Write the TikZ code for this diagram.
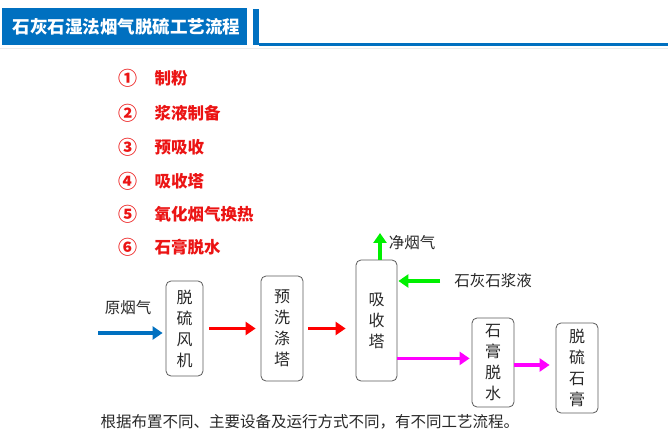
\documentclass[tikz,border=0pt]{standalone}
\usepackage{fontspec}
\setmainfont{Noto Sans CJK SC}
\usetikzlibrary{arrows.meta,calc}
\definecolor{tblue}{RGB}{0,112,192}
\definecolor{lred}{RGB}{235,20,20}
\definecolor{agreen}{RGB}{0,240,0}
\definecolor{amag}{RGB}{255,0,255}
\definecolor{bord}{RGB}{90,90,90}
\definecolor{txt}{RGB}{40,40,40}
\tikzset{
  stage/.style={draw=bord,line width=0.8pt,rounded corners=5pt,inner sep=0pt,align=center,
    font=\fontsize{16}{21}\selectfont,text=txt},
  flow/.style={line width=3.6pt,-{Triangle[length=10pt,width=13pt]}},
  listitem/.style={anchor=west,text=lred,font=\fontsize{16.5}{18}\selectfont\bfseries},
  listnum/.style={text=lred,font=\fontsize{19}{20}\selectfont\bfseries},
  lbl/.style={text=txt,font=\fontsize{15.5}{18}\selectfont}
}
\begin{document}
\begin{tikzpicture}[x=1pt,y=-1pt]
\useasboundingbox (0,0) rectangle (668,443);
% title
\fill[tblue] (2,8) rectangle (247,45);
\fill[tblue] (253,9) rectangle (259,45);
\fill[tblue] (259,43.5) rectangle (668,46);
\draw[gray!15,line width=1pt] (0,48.5) -- (668,48.5);
\node[text=white,font=\fontsize{17.5}{20}\selectfont\bfseries,anchor=west] (title) at (9,27) {石灰石湿法烟气脱硫工艺流程};
% list
\node[listnum] (n1) at (127.5,78) {①};
\node[listitem] (t1) at (151,78) {制粉};
\node[listnum] (n2) at (127.5,113) {②};
\node[listitem] (t2) at (151,113) {浆液制备};
\node[listnum] (n3) at (127.5,147) {③};
\node[listitem] (t3) at (151,147) {预吸收};
\node[listnum] (n4) at (127.5,181) {④};
\node[listitem] (t4) at (151,181) {吸收塔};
\node[listnum] (n5) at (127.5,214) {⑤};
\node[listitem] (t5) at (151,214) {氧化烟气换热};
\node[listnum] (n6) at (127.5,247) {⑥};
\node[listitem] (t6) at (151,247) {石膏脱水};
% boxes
\node[stage,minimum width=37pt,minimum height=95pt] (b1) at (184.5,328.5) {脱\\硫\\风\\机};
\node[stage,minimum width=42pt,minimum height=105pt] (b2) at (282,328.5) {预\\洗\\涤\\塔};
\node[stage,minimum width=41pt,minimum height=121pt] (b3) at (376.5,320.5) {吸\\收\\塔};
\node[stage,minimum width=42pt,minimum height=89pt] (b4) at (493,362.5) {石\\膏\\脱\\水};
\node[stage,minimum width=42pt,minimum height=90pt] (b5) at (577,368) {脱\\硫\\石\\膏};
% labels
\node[lbl] (raw) at (128,308) {原烟气};
\node[lbl] (clean) at (412,243) {净烟气};
\node[lbl] (slurry) at (493,281) {石灰石浆液};
\node[lbl,anchor=west] (note) at (97,422) {根据布置不同、主要设备及运行方式不同，有不同工艺流程。};
% connectors
\coordinate (rawstart) at (98,333);
\draw[flow,tblue,shorten >=3pt] (rawstart) -- (rawstart -| b1.west);
\draw[flow,red,shorten <=6pt,shorten >=5pt] (b1.east) -- (b1.east -| b2.west);
\draw[flow,red,shorten <=5pt,shorten >=10pt] (b2.east) -- (b2.east -| b3.west);
\coordinate (cleantop) at (380,233);
\draw[flow,agreen] ([xshift=3.5pt]b3.north) -- (cleantop);
\coordinate (slurrystart) at (440,281);
\draw[flow,agreen,shorten >=1pt] (slurrystart) -- (slurrystart -| b3.east);
\coordinate (m1) at ([yshift=23pt]b3.south east);
\draw[flow,amag,shorten >=2pt] (m1) -- (m1 -| b4.west);
\coordinate (m2) at ([yshift=-2.5pt]b4.east);
\draw[flow,amag,shorten >=6pt] (m2) -- (m2 -| b5.west);
\end{tikzpicture}
\end{document}
